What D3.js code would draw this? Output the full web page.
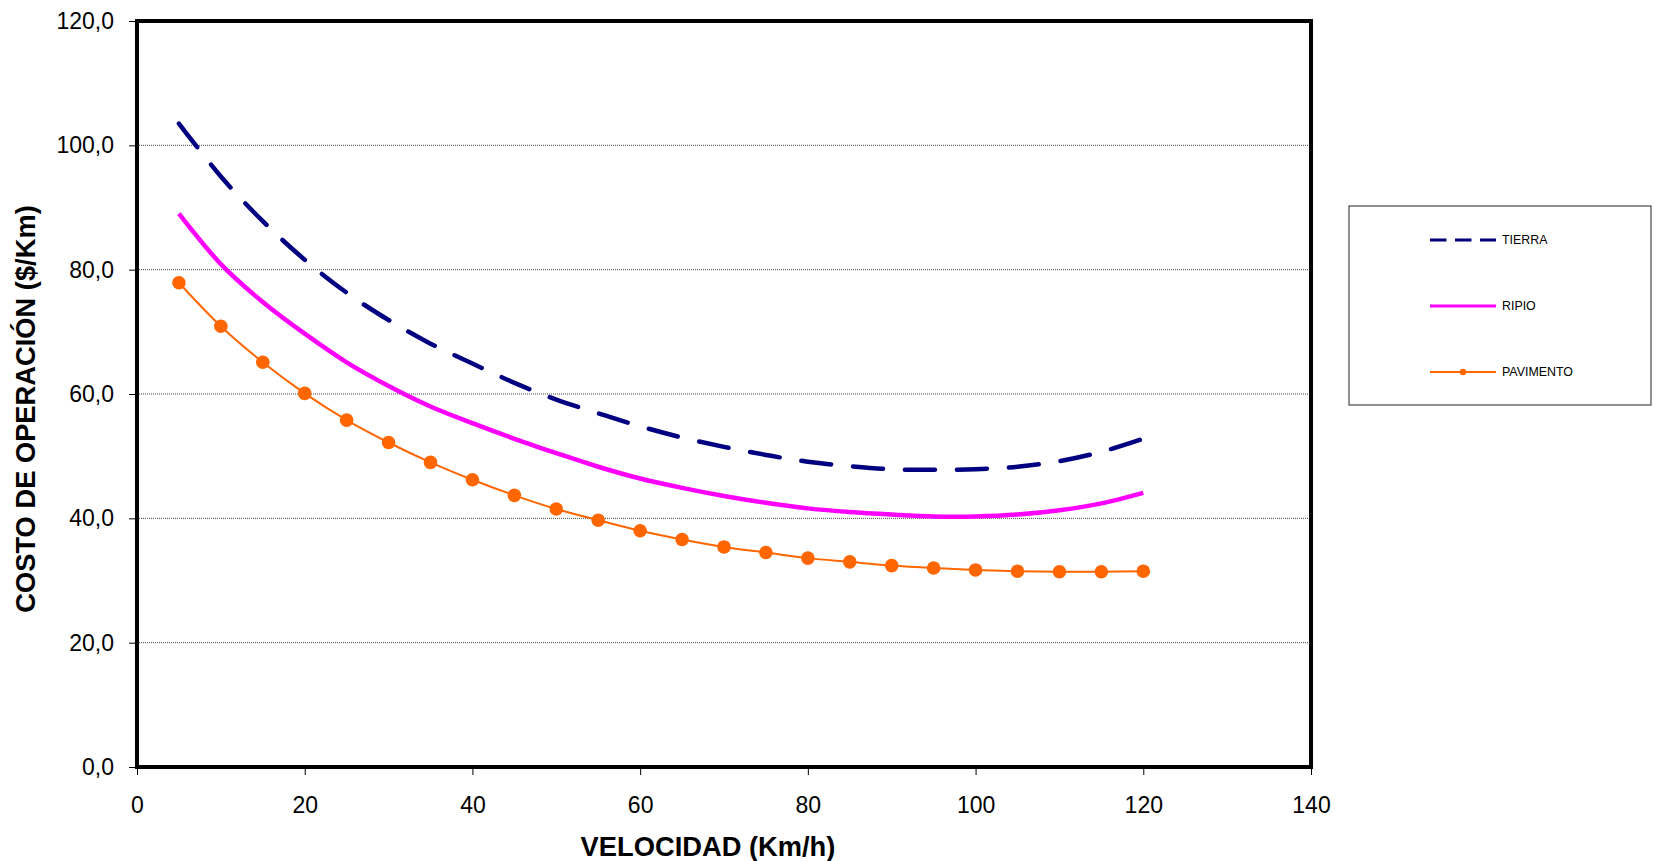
<!DOCTYPE html>
<html>
<head>
<meta charset="utf-8">
<script src="https://cdn.jsdelivr.net/npm/d3@7"></script>
<style>
  body { margin: 0; background: #fff; }
  svg { display: block; font-family: Arial, "Liberation Sans", sans-serif; }
</style>
</head>
<body>
<svg id="chart" width="1654" height="861"></svg>
<script>
// ---- data ----
const velocidad = [5,10,15,20,25,30,35,40,45,50,55,60,65,70,75,80,85,90,95,100,105,110,115,120];
const tierra    = [103.5,95.0,87.8,81.6,76.3,71.9,68.1,64.9,61.8,59.1,56.9,54.8,53.0,51.5,50.2,49.1,48.4,47.9,47.8,47.9,48.3,49.2,50.7,52.8];
const ripio     = [89.0,80.9,74.8,69.7,65.1,61.3,58.0,55.3,52.8,50.5,48.3,46.4,44.9,43.6,42.5,41.6,41.0,40.6,40.3,40.3,40.6,41.3,42.4,44.1];
const pavimento = [77.9,70.9,65.1,60.1,55.8,52.2,49.0,46.2,43.7,41.5,39.7,38.0,36.6,35.4,34.5,33.6,33.0,32.4,32.0,31.7,31.5,31.4,31.4,31.5];
const seriesNames = ["TIERRA","RIPIO","PAVIMENTO"];
const xTicks = [0,20,40,60,80,100,120,140];
const yTicks = [0,20,40,60,80,100,120];
const xTitle = "VELOCIDAD (Km/h)";
const yTitle = "COSTO DE OPERACIÓN ($/Km)";

const svg = d3.select("#chart");
const L = 137, R = 1311, T = 21, B = 767;
const x = d3.scaleLinear().domain([0,140]).range([L,R]);
const y = d3.scaleLinear().domain([0,120]).range([B,T]);

// gridlines
svg.append("g").selectAll("line").data(yTicks.filter(v => v > 0 && v < 120)).join("line")
  .attr("x1", L).attr("x2", R)
  .attr("y1", d => y(d)).attr("y2", d => y(d))
  .attr("stroke", "#444").attr("stroke-width", 1).attr("stroke-dasharray", "1,1");

// axes
const fmt = d => d.toFixed(1).replace(".", ",");
const yAxis = svg.append("g").attr("transform", `translate(${L},0)`)
  .call(d3.axisLeft(y).tickValues(yTicks).tickFormat(fmt).tickSize(8).tickPadding(15));
const xAxis = svg.append("g").attr("transform", `translate(0,${B})`)
  .call(d3.axisBottom(x).tickValues(xTicks).tickFormat(d3.format("d")).tickSize(8).tickPadding(22));
[yAxis, xAxis].forEach(a => {
  a.select(".domain").remove();
  a.selectAll(".tick line").attr("stroke", "#000").attr("stroke-width", 1);
  a.selectAll(".tick text").attr("font-size", 23).attr("fill", "#000")
    .attr("font-family", "Arial, 'Liberation Sans', sans-serif");
});

// frame
svg.append("rect").attr("x", L).attr("y", T).attr("width", R - L).attr("height", B - T)
  .attr("fill", "none").attr("stroke", "#000").attr("stroke-width", 4);

// series
const line = vals => d3.line()
  .x((d, i) => x(velocidad[i])).y(d => y(d))
  .curve(d3.curveCatmullRom.alpha(0.5))(vals);

svg.append("path").attr("d", line(tierra)).attr("fill", "none")
  .attr("stroke", "#000080").attr("stroke-width", 4.5)
  .attr("stroke-dasharray", "30,22").attr("stroke-linecap", "round");
svg.append("path").attr("d", line(ripio)).attr("fill", "none")
  .attr("stroke", "#FF00FF").attr("stroke-width", 4.5);
svg.append("path").attr("d", line(pavimento)).attr("fill", "none")
  .attr("stroke", "#FF6600").attr("stroke-width", 2);
svg.append("g").selectAll("circle").data(pavimento).join("circle")
  .attr("cx", (d, i) => x(velocidad[i])).attr("cy", d => y(d)).attr("r", 6.8)
  .attr("fill", "#FF6600");

// axis titles
svg.append("text").attr("x", 708).attr("y", 856)
  .attr("text-anchor", "middle").attr("font-size", 27.3).attr("font-weight", "bold")
  .text(xTitle);
svg.append("text").attr("transform", "translate(35,409) rotate(-90)")
  .attr("text-anchor", "middle").attr("font-size", 27.3).attr("font-weight", "bold")
  .text(yTitle);

// legend
const lg = svg.append("g");
lg.append("rect").attr("x", 1349).attr("y", 206).attr("width", 302).attr("height", 199)
  .attr("fill", "#fff").attr("stroke", "#222").attr("stroke-width", 1);
const rowsY = [240, 306, 372];
const styles = [
  {c: "#000080", w: 3, dash: "16.5,8.5"},
  {c: "#FF00FF", w: 3, dash: null},
  {c: "#FF6600", w: 2, dash: null, marker: true}
];
seriesNames.forEach((name, i) => {
  const s = styles[i];
  const ln = lg.append("line").attr("x1", 1430).attr("x2", 1496)
    .attr("y1", rowsY[i]).attr("y2", rowsY[i]).attr("stroke", s.c).attr("stroke-width", s.w);
  if (s.dash) ln.attr("stroke-dasharray", s.dash);
  if (s.marker) lg.append("circle").attr("cx", 1463).attr("cy", rowsY[i]).attr("r", 3.2).attr("fill", s.c);
  lg.append("text").attr("x", 1502).attr("y", rowsY[i] + 4.4).attr("font-size", 12.4).text(name);
});
</script>
</body>
</html>
